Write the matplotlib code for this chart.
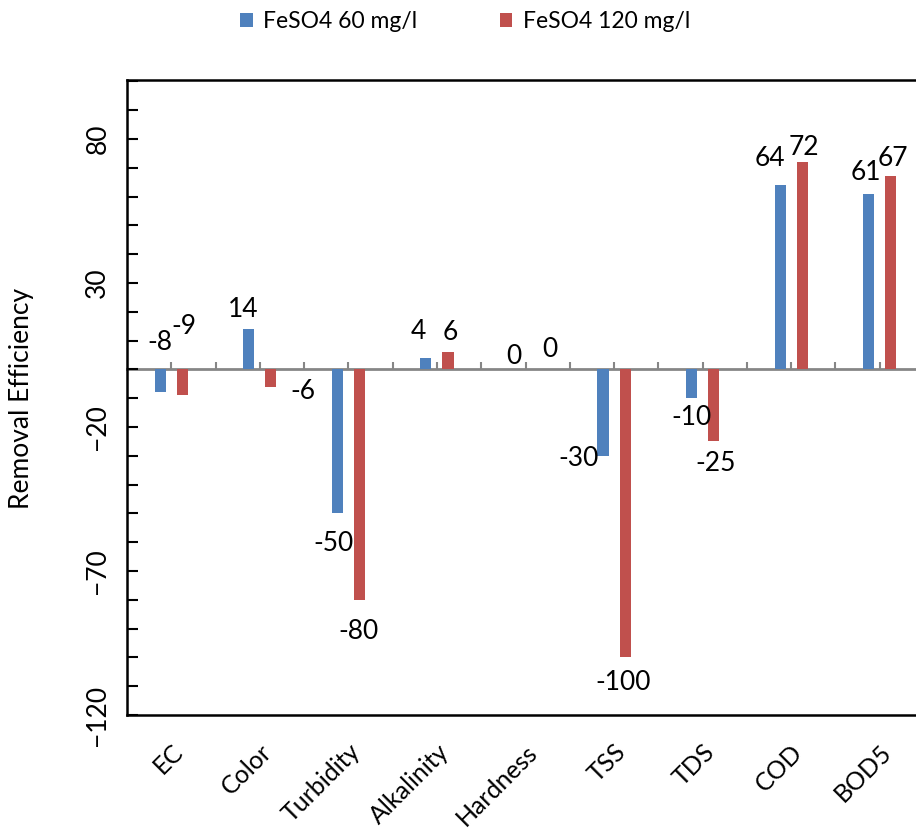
import matplotlib.pyplot as plt
import numpy as np

plt.rcParams['font.family'] = ['Lato', 'DejaVu Sans']

categories = ['EC', 'Color', 'Turbidity', 'Alkalinity', 'Hardness', 'TSS', 'TDS', 'COD', 'BOD5']
feso4_60 = [-8, 14, -50, 4, 0, -30, -10, 64, 61]
feso4_120 = [-9, -6, -80, 6, 0, -100, -25, 72, 67]
series_names = ['FeSO4 60 mg/l', 'FeSO4 120 mg/l']

# hand-placed label offsets (pixels) from each bar's end
offsets_60 = [(0, 50), (-6, 20), (-4, -30), (-7, 26), (-1, 13), (-24, -3), (0, -19), (-10, 27), (-3, 21)]
offsets_120 = [(2, 69), (32, -5), (-1, -32), (2, 20), (13, 20), (-2, -25), (2, -22), (2, 15), (2, 18)]

blue = '#4F81BD'
red = '#C0504D'

fig = plt.figure(figsize=(9.16, 8.36), dpi=100)
ax = fig.add_axes([127 / 916, 121 / 836, 797 / 916, 635 / 836])

x = np.arange(len(categories))
w = 0.125
b1 = ax.bar(x - w, feso4_60, width=w, color=blue, label=series_names[0], zorder=2)
b2 = ax.bar(x + w, feso4_120, width=w, color=red, label=series_names[1], zorder=2)

for bars, vals, offs in [(b1, feso4_60, offsets_60), (b2, feso4_120, offsets_120)]:
    for rect, v, (dx, dy) in zip(bars, vals, offs):
        ax.annotate(f'{v}', (rect.get_x() + rect.get_width() / 2, v),
                    xytext=(dx, dy), textcoords='offset pixels',
                    ha='center', va='center', fontsize=19, color='black', zorder=5)

ymin, ymax = -120, 100.5
ax.set_xlim(-0.5, len(categories) - 0.5)
ax.set_ylim(ymin, ymax)

ax.set_yticks([-120, -70, -20, 30, 80])
ax.set_yticks(np.arange(-120, 101, 10), minor=True)
ax.tick_params(axis='y', which='both', direction='in', length=8, width=1.5, pad=12)
ax.tick_params(axis='y', which='major', labelsize=19)
for lbl in ax.get_yticklabels():
    lbl.set_rotation(90)
    lbl.set_va('center')

ax.set_xticks(x)
ax.set_xticklabels(categories, rotation=45, ha='right', rotation_mode='anchor', fontsize=18)
ax.tick_params(axis='x', length=0, pad=18)

for side in ['left', 'top', 'bottom']:
    ax.spines[side].set_linewidth(1.8)
    ax.spines[side].set_color('black')
ax.spines['right'].set_visible(False)

# category axis crossing at zero, gray with upward ticks
zero_frac = (0 - ymin) / (ymax - ymin)
sec = ax.secondary_xaxis(zero_frac)
sec.set_xticks(np.arange(0, len(categories), 0.5))
sec.tick_params(axis='x', direction='out', length=5, width=1.5, color='#868686', labeltop=False, labelbottom=False)
for s in sec.spines.values():
    s.set_color('#868686')
    s.set_linewidth(2)

fig.text(22 / 916, 1 - 398 / 836, 'Removal Efficiency', rotation=90, ha='center', va='center', fontsize=19)

fig.legend(handles=[b1, b2], loc='center', bbox_to_anchor=(465 / 916, 1 - 22 / 836), ncol=2,
           frameon=False, fontsize=16.5, handlelength=0.55, handleheight=0.55,
           handletextpad=0.45, columnspacing=3.6)

fig.savefig('out.png', dpi=100)
